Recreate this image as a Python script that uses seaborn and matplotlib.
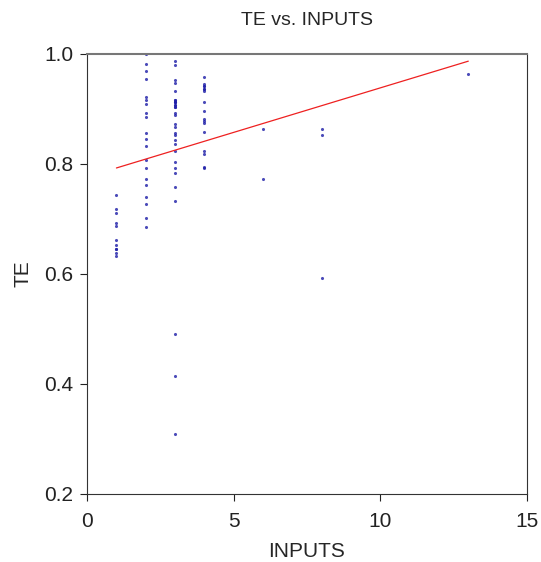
import numpy as np
import pandas as pd
import matplotlib
matplotlib.use("Agg")
import matplotlib.pyplot as plt
import seaborn as sns

# Values (a few tied values hide inside the
# dense clusters; they are implied by the position of the fitted line)
inputs_1 = [1] * 11
te_1 = [0.744, 0.719, 0.711, 0.693, 0.687, 0.662, 0.653, 0.646, 0.646, 0.639, 0.633]

inputs_2 = [2] * 20
te_2 = [1.000, 0.982, 0.969, 0.955, 0.922, 0.917, 0.909, 0.892, 0.885, 0.857,
        0.846, 0.832, 0.808, 0.793, 0.773, 0.762, 0.740, 0.728, 0.701, 0.685]

inputs_3 = [3] * 31
te_3 = [0.988, 0.980, 0.952, 0.948, 0.933, 0.917, 0.917, 0.912, 0.912, 0.912,
        0.907, 0.907, 0.903, 0.903, 0.893, 0.889, 0.873, 0.868, 0.856, 0.853,
        0.843, 0.836, 0.823, 0.803, 0.793, 0.783, 0.758, 0.733, 0.490, 0.414,
        0.309]

inputs_4 = [4] * 17
te_4 = [0.959, 0.945, 0.942, 0.942, 0.936, 0.936, 0.933, 0.913, 0.897, 0.882,
        0.878, 0.874, 0.858, 0.823, 0.819, 0.794, 0.792]

inputs_other = [6, 6, 8, 8, 8, 13]
te_other = [0.863, 0.773, 0.863, 0.853, 0.593, 0.963]

df = pd.DataFrame({
    "INPUTS": inputs_1 + inputs_2 + inputs_3 + inputs_4 + inputs_other,
    "TE": te_1 + te_2 + te_3 + te_4 + te_other,
})

sns.set_style("white")
plt.rcParams["font.family"] = ["Liberation Sans", "DejaVu Sans"]

fig = plt.figure(figsize=(5.41, 5.62), dpi=100)
ax = fig.add_axes([0.161, 0.121, 0.813, 0.783])

sns.regplot(data=df, x="INPUTS", y="TE", ax=ax, ci=None, truncate=True,
            scatter_kws={"s": 5, "color": "#1e1ea8", "linewidths": 0},
            line_kws={"color": "#ee2020", "linewidth": 0.9})

ax.set_xlim(0, 15)
ax.set_ylim(0.2, 1.0)
ax.set_xticks([0, 5, 10, 15])
ax.set_yticks([0.2, 0.4, 0.6, 0.8, 1.0])
ax.set_yticklabels(["0.2", "0.4", "0.6", "0.8", "1.0"])
ax.tick_params(direction="out", length=5, width=0.8, colors="#222222",
               labelsize=15, left=True, bottom=True)
ax.tick_params(axis="x", pad=8)
ax.tick_params(axis="y", pad=5)
for side, spine in ax.spines.items():
    spine.set_visible(True)
    spine.set_color("#333333")
    spine.set_linewidth(0.8)
ax.spines["top"].set_color("#777777")
ax.spines["top"].set_linewidth(1.5)

ax.set_xlabel("INPUTS", fontsize=15, labelpad=8)
ax.set_ylabel("TE", fontsize=15, labelpad=8)
ax.set_title("TE vs. INPUTS", fontsize=14, pad=21)

fig.savefig("out.png", dpi=100)
